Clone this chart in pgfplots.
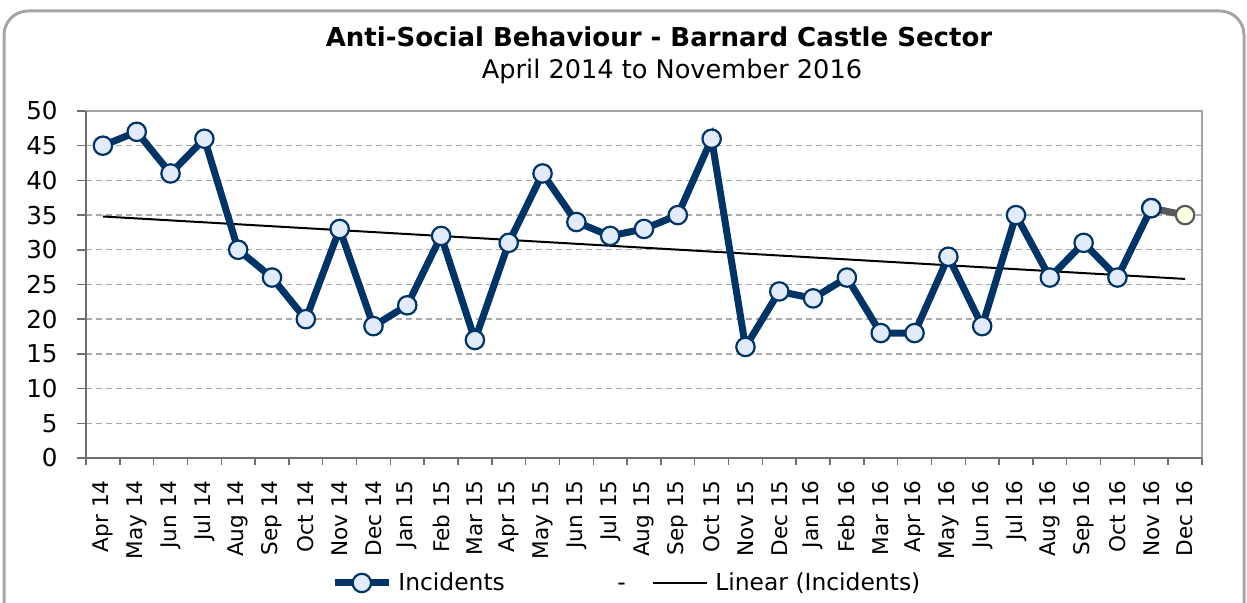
\documentclass[border=0pt]{standalone}
\usepackage{pgfplots}
\pgfplotsset{compat=1.18}
\usepackage{fontspec}
\setmainfont{DejaVu Sans}
\definecolor{navy}{RGB}{0,51,102}
\definecolor{mfill}{RGB}{226,235,249}
\definecolor{yfill}{RGB}{255,255,228}
\definecolor{dgray}{RGB}{89,89,89}
\definecolor{axgray}{RGB}{110,110,110}
\definecolor{gridc}{RGB}{170,170,170}
\definecolor{framec}{RGB}{165,165,165}
\begin{document}
\begin{tikzpicture}
\useasboundingbox (0,0) rectangle (623.5pt,301.5pt);
\draw[framec, line width=1.5pt, rounded corners=12pt] (2pt,296pt) rectangle (622pt,-20pt);
\node[font=\bfseries\fontsize{13}{15}\selectfont, inner sep=0pt] at (329.5pt,283pt) {Anti-Social Behaviour - Barnard Castle Sector};
\node[font=\fontsize{12.8}{15}\selectfont, inner sep=0pt] at (336pt,266pt) {April 2014 to November 2016};
\begin{axis}[
  at={(43pt,72.5pt)}, anchor=south west,
  width=558pt, height=173.5pt, scale only axis,
  xmin=-0.5, xmax=32.5, ymin=0, ymax=50,
  xtick={0,...,32},
  xticklabels={Apr 14,May 14,Jun 14,Jul 14,Aug 14,Sep 14,Oct 14,Nov 14,Dec 14,Jan 15,Feb 15,Mar 15,Apr 15,May 15,Jun 15,Jul 15,Aug 15,Sep 15,Oct 15,Nov 15,Dec 15,Jan 16,Feb 16,Mar 16,Apr 16,May 16,Jun 16,Jul 16,Aug 16,Sep 16,Oct 16,Nov 16,Dec 16},
  minor xtick={-0.5,0.5,...,32.5},
  ytick={0,5,...,50},
  tick pos=left,
  tick align=outside,
  major tick length=4.5pt, minor tick length=3.5pt,
  major x tick style={draw=none},
  every tick/.style={axgray, line width=0.75pt},
  /pgf/number format/assume math mode=true,
  xticklabel style={font=\fontsize{10.8}{12}\selectfont, rotate=90, anchor=east, inner xsep=6.5pt, inner ysep=0pt},
  yticklabel style={font=\fontsize{12.3}{14}\selectfont, anchor=east, inner sep=0pt, xshift=-9.5pt},
  ymajorgrids,
  grid style={gridc, dash pattern=on 3pt off 2pt, line width=0.7pt},
  axis line style={framec, line width=1pt},
  clip=false,
  legend columns=3,
  legend style={at={(0.2195,-0.3602)}, anchor=west, draw=none, fill=none, inner sep=0pt,
    cells={anchor=west}, nodes={inner sep=0pt, font=\fontsize{11.7}{14}\selectfont},
    /tikz/every even column/.style={column sep=0pt},
    /tikz/every odd column/.style={column sep=0pt}},
]
\addplot[forget plot, black, line width=1pt] coordinates {(0,34.8) (32,25.8)};
\addplot[navy, line width=3.5pt, mark=*, mark size=4.6pt,
  mark options={fill=mfill, draw=navy, line width=1.1pt},
  legend image code/.code={\draw[navy, line width=3.5pt] (0pt,0pt) -- (27pt,0pt); \draw[navy, fill=mfill, line width=1.1pt] (13.5pt,0pt) circle (4.6pt);}]
  coordinates {
  (0,45) (1,47) (2,41) (3,46) (4,30) (5,26) (6,20) (7,33) (8,19) (9,22)
  (10,32) (11,17) (12,31) (13,41) (14,34) (15,32) (16,33) (17,35) (18,46) (19,16)
  (20,24) (21,23) (22,26) (23,18) (24,18) (25,29) (26,19) (27,35) (28,26) (29,31)
  (30,26) (31,36)};
\addlegendentry{\hspace{3pt}\makebox[109.5pt][l]{Incidents}}
\addplot[dgray, line width=3.5pt, mark=*, mark size=4.6pt, mark indices={2},
  mark options={fill=yfill, draw=dgray, line width=1.1pt},
  legend image code/.code={}]
  coordinates {(31,36) (32,35)};
\addlegendentry{\makebox[17.5pt][l]{-\vphantom{Incidents}}}
\addplot[forget plot, only marks, mark=*, mark size=4.6pt,
  mark options={fill=mfill, draw=navy, line width=1.1pt}]
  coordinates {(31,36)};
\addlegendimage{legend image code/.code={\draw[black, line width=1pt] (0pt,0pt) -- (27pt,0pt);}}
\addlegendentry{\hspace{3.5pt}Linear (Incidents)}
\draw[axgray, line width=1pt] (rel axis cs:0,1) -- (rel axis cs:0,0) -- (rel axis cs:1,0);
\end{axis}
\end{tikzpicture}
\end{document}
